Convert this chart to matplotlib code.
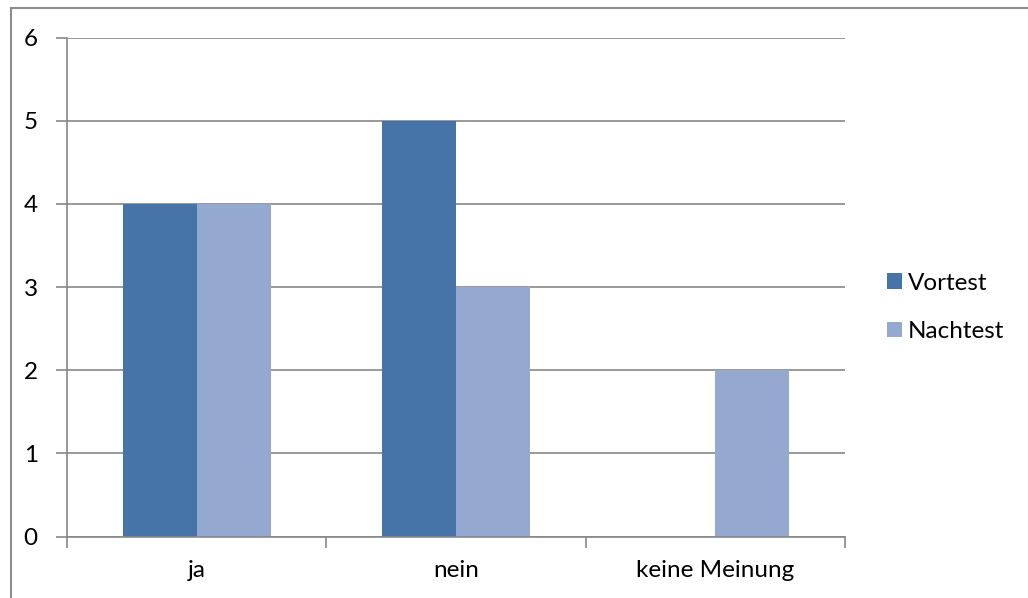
import matplotlib
matplotlib.use("Agg")
import matplotlib.pyplot as plt
from matplotlib.lines import Line2D
from matplotlib.patches import Patch
import numpy as np

categories = ["ja", "nein", "keine Meinung"]
vortest = [4, 5, 0]
nachtest = [4, 3, 2]
series_names = ["Vortest", "Nachtest"]
y_ticks = [0, 1, 2, 3, 4, 5, 6]

dark = "#4674A8"
light = "#95A9D0"
grey = "#878787"
fs = 17.5

plt.rcParams["font.family"] = ["Lato", "DejaVu Sans"]

W, H = 1028, 598
fig = plt.figure(figsize=(W / 100, H / 100), dpi=100)
fig.patch.set_facecolor("white")

# chart area frame (left and top edges)
fig.add_artist(Line2D([11 / W, 11 / W], [0, 1 - 8 / H], color="#8c8c8c", lw=1.5))
fig.add_artist(Line2D([11 / W, 1], [1 - 8 / H, 1 - 8 / H], color="#8c8c8c", lw=1.5))

# plot area in pixel coordinates (from top-left)
px_left, px_right, px_top, px_bottom = 67, 845, 37.5, 536.5
ax = fig.add_axes([px_left / W, 1 - px_bottom / H,
                   (px_right - px_left) / W, (px_bottom - px_top) / H])

x = np.arange(len(categories))
bw = 1 / 3.5
ax.bar(x - bw / 2, vortest, width=bw, color=dark, zorder=3, label=series_names[0])
ax.bar(x + bw / 2, nachtest, width=bw, color=light, zorder=3, label=series_names[1])

ax.set_xlim(-0.5, len(categories) - 0.5)
ax.set_ylim(0, 6)
ax.set_yticks(y_ticks)
ax.set_yticklabels([str(v) for v in y_ticks])
ax.yaxis.grid(True, color=grey, lw=1.2, zorder=0)

# category labels centered, tick marks at category boundaries
ax.set_xticks(x)
ax.set_xticklabels(categories)
ax.set_xticks(np.arange(-0.5, len(categories)), minor=True)
ax.tick_params(axis="x", which="major", length=0, pad=17, labelsize=fs)
ax.tick_params(axis="x", which="minor", length=8, color=grey, width=1.2, direction="out")
ax.tick_params(axis="y", length=8, color=grey, width=1.2, direction="out", pad=13, labelsize=fs)

for s in ["top", "right"]:
    ax.spines[s].set_visible(False)
for s in ["left", "bottom"]:
    ax.spines[s].set_color(grey)
    ax.spines[s].set_linewidth(1.2)
    ax.spines[s].set_zorder(4)

handles = [Patch(facecolor=dark), Patch(facecolor=light)]
fig.legend(handles, series_names, loc="center left", bbox_to_anchor=(887 / W, 1 - 307.5 / H),
           frameon=False, fontsize=fs, borderpad=0, borderaxespad=0,
           handlelength=0.62, handleheight=0.62,
           handletextpad=0.25, labelspacing=1.12)

fig.savefig("out.png", dpi=100)
